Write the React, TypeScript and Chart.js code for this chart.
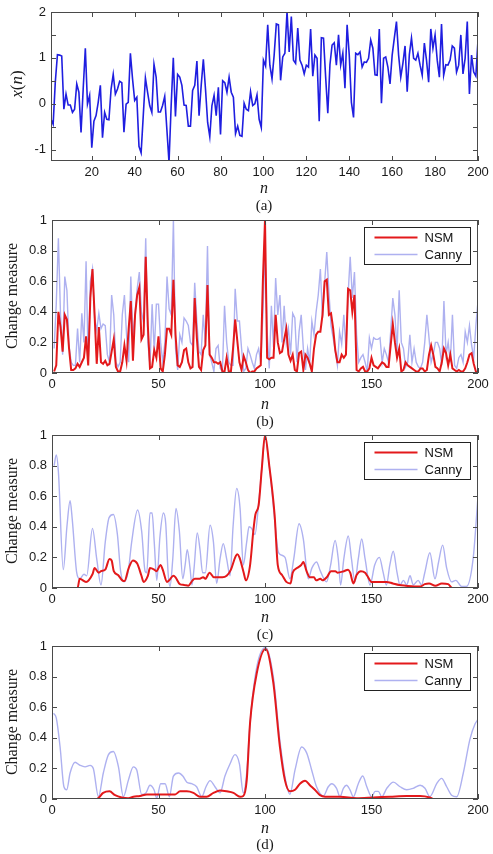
import React, { useEffect, useRef } from "react";
import { Chart, registerables } from "chart.js";

Chart.register(...registerables);

// (a) input signal x(n), n = 1..200
const signalX = [
  -0.34, -0.45, 0.47, 1.07, 1.06, 1.04, -0.12, 0.21, -0.03, -0.03,
  -0.19, -0.12, 0.43, 0.25, -0.63, 0.32, 1.21, -0.01, 0.18, -0.96,
  -0.38, -0.26, 0.03, 0.4, -0.74, -0.19, -0.34, -0.35, 0.32, 0.64,
  0.21, 0.32, 0.49, 0.46, -0.62, -0.01, 0.03, 1.1, 0.54, 0.07,
  0.14, -0.93, -1.07, -0.26, 0.56, 0.25, -0.04, -0.19, 0.86, 0.58,
  -0.18, -0.18, -0.04, 0.16, -0.56, -1.28, -0.04, 1.0, -0.28, 0.64,
  0.58, 0.4, -0.03, -0.04, -0.49, -0.49, 0.29, 0.4, 0.93, -0.26,
  0.4, 0.97, 0.32, -0.41, -0.72, -0.04, 0.18, -0.26, 0.36, -0.67,
  0.5, 0.46, 0.25, 0.58, 0.25, 0.14, -0.65, -0.49, -0.69, -0.71,
  0.01, -0.12, -0.15, 0.26, -0.04, 0.0, 0.19, -0.34, -0.52, 0.95,
  0.82, 1.72, 0.84, 0.54, 1.06, 1.74, 1.72, 0.51, 1.02, 1.1,
  2.01, 1.13, 1.9, 0.95, 0.88, 1.65, 0.95, 0.84, 0.65, 0.84,
  0.8, 1.63, 0.6, 1.06, 0.99, -0.38, 1.44, 1.43, 0.58, -0.21,
  0.85, 1.28, 1.33, 0.84, 1.5, 0.84, 1.1, 0.34, 1.72, 1.06,
  0.03, -0.3, 1.1, 1.07, 1.13, 0.8, 0.91, 0.9, 0.99, 1.39,
  1.21, 0.63, 0.62, 1.63, 0.01, 0.99, 1.02, 0.8, 0.43, 1.06,
  1.43, 1.79, 1.06, 0.58, 0.88, 1.26, 0.26, 1.07, 1.43, 0.99,
  0.95, 1.1, 0.84, 0.62, 1.32, 0.95, 0.47, 1.63, 1.21, 1.5,
  0.95, 0.58, 1.74, 0.62, 0.85, 0.84, 0.95, 1.26, 1.21, 0.69,
  0.84, 1.5, 0.65, 0.99, 1.79, 0.21, 1.06, 0.69, 0.6, 1.39,
];

// (b) change measures, n = 1..200
const nsmB = [
  0.01, 0.05, 0.4, 0.3, 0.14, 0.38, 0.35, 0.16, 0.02, 0.02,
  0.03, 0.06, 0.04, 0.07, 0.1, 0.24, 0.05, 0.49, 0.68, 0.38,
  0.06, 0.3, 0.07, 0.06, 0.08, 0.05, 0.06, 0.14, 0.22, 0.04,
  0.01, 0.01, 0.07, 0.18, 0.08, 0.29, 0.47, 0.08, 0.38, 0.51,
  0.56, 0.22, 0.25, 0.76, 0.31, 0.03, 0.04, 0.15, 0.1, 0.24,
  0.03, 0.01, 0.12, 0.29, 0.29, 0.25, 0.61, 0.25, 0.05, 0.04,
  0.07, 0.15, 0.16, 0.07, 0.03, 0.04, 0.49, 0.23, 0.04, 0.02,
  0.15, 0.18, 0.575, 0.12, 0.1, 0.07, 0.07, 0.06, 0.07, 0.01,
  0.01, 0.1, 0.01, 0.01, 0.16, 0.35, 0.21, 0.07, 0.02, 0.11,
  0.07, 0.02, 0.0, 0.01, 0.01, 0.03, 0.04, 0.05, 0.6, 1.0,
  0.1, 0.09, 0.1, 0.1, 0.38, 0.2, 0.13, 0.14, 0.22, 0.29,
  0.12, 0.08, 0.12, 0.02, 0.01, 0.13, 0.14, 0.02, 0.12, 0.1,
  0.06, 0.01, 0.16, 0.25, 0.27, 0.27, 0.38, 0.6, 0.61, 0.38,
  0.39, 0.29, 0.15, 0.07, 0.07, 0.12, 0.1, 0.12, 0.55, 0.54,
  0.4, 0.51, 0.02, 0.01, 0.03, 0.04, 0.01, 0.01, 0.03, 0.1,
  0.05, 0.04, 0.03, 0.05, 0.07, 0.06, 0.04, 0.04, 0.18, 0.32,
  0.2, 0.1, 0.16, 0.01, 0.02, 0.07, 0.05, 0.04, 0.03, 0.02,
  0.01, 0.01, 0.03, 0.03, 0.01, 0.02, 0.12, 0.18, 0.12, 0.04,
  0.03, 0.01, 0.07, 0.16, 0.13, 0.05, 0.12, 0.03, 0.02, 0.01,
  0.02, 0.01, 0.01, 0.03, 0.07, 0.12, 0.13, 0.06, 0.01, 0.0,
];

const cannyB = [
  0.16, 0.45, 0.88, 0.38, 0.12, 0.63, 0.54, 0.18, 0.07, 0.05,
  0.05, 0.29, 0.07, 0.39, 0.2, 0.73, 0.07, 0.6, 0.68, 0.36,
  0.28, 0.39, 0.29, 0.32, 0.31, 0.12, 0.07, 0.51, 0.38, 0.07,
  0.04, 0.07, 0.38, 0.51, 0.25, 0.07, 0.63, 0.23, 0.39, 0.55,
  0.66, 0.4, 0.33, 0.88, 0.2, 0.05, 0.45, 0.14, 0.45, 0.45,
  0.2, 0.07, 0.2, 0.63, 0.42, 0.38, 1.0, 0.16, 0.02, 0.25,
  0.2, 0.36, 0.34, 0.31, 0.2, 0.18, 0.59, 0.34, 0.14, 0.12,
  0.38, 0.2, 0.83, 0.12, 0.07, 0.01, 0.16, 0.18, 0.03, 0.01,
  0.44, 0.2, 0.07, 0.05, 0.05, 0.55, 0.34, 0.34, 0.16, 0.01,
  0.03, 0.16, 0.12, 0.07, 0.03, 0.12, 0.16, 0.07, 0.38, 0.8,
  0.27, 0.03, 0.44, 0.17, 0.62, 0.38, 0.51, 0.2, 0.44, 0.2,
  0.29, 0.12, 0.39, 0.36, 0.07, 0.27, 0.38, 0.16, 0.02, 0.16,
  0.07, 0.34, 0.25, 0.4, 0.51, 0.68, 0.36, 0.59, 0.79, 0.53,
  0.31, 0.23, 0.14, 0.05, 0.27, 0.19, 0.38, 0.16, 0.51, 0.76,
  0.49, 0.66, 0.25, 0.07, 0.1, 0.12, 0.07, 0.01, 0.23, 0.16,
  0.23, 0.22, 0.22, 0.23, 0.07, 0.16, 0.12, 0.07, 0.27, 0.49,
  0.38, 0.14, 0.54, 0.2, 0.16, 0.04, 0.07, 0.25, 0.07, 0.16,
  0.07, 0.04, 0.03, 0.07, 0.2, 0.38, 0.23, 0.07, 0.12, 0.2,
  0.2, 0.16, 0.05, 0.47, 0.12, 0.2, 0.07, 0.38, 0.05, 0.03,
  0.1, 0.12, 0.07, 0.27, 0.2, 0.31, 0.18, 0.1, 0.31, 0.47,
];

// (c) change measures as [n, value]
const nsmC: [number, number][] = [
  [0, 0], [12, 0], [13, 0.06], [16, 0.04], [19, 0.09], [20, 0.13], [22, 0.1], [23, 0.11],
  [25, 0.12], [27, 0.19], [28, 0.18], [29, 0.11], [31, 0.085], [33, 0.05], [34, 0.045],
  [36, 0.13], [38, 0.18], [40, 0.16], [42, 0.08], [43, 0.04], [45, 0.08], [46, 0.13],
  [48, 0.12], [49, 0.11], [51, 0.15], [52, 0.12], [54, 0.04], [55, 0.05], [57, 0.08],
  [58, 0.07], [60, 0.025], [62, 0.02], [64, 0.015], [66, 0.05], [67, 0.06], [69, 0.06],
  [71, 0.07], [72, 0.06], [74, 0.1], [76, 0.07], [78, 0.07], [80, 0.07], [82, 0.08],
  [84, 0.12], [86, 0.2], [87, 0.22], [88, 0.2], [90, 0.1], [91, 0.05], [93, 0.15],
  [94.5, 0.37], [95.5, 0.48], [97, 0.54], [98.5, 0.78], [100, 1.0], [102, 0.8],
  [104.5, 0.48], [106, 0.15], [108, 0.085], [110, 0.04], [112, 0.03], [113, 0.1],
  [115, 0.13], [117, 0.15], [118, 0.17], [119.5, 0.11], [121, 0.07], [123, 0.07],
  [124, 0.05], [126, 0.06], [127, 0.05], [129, 0.07], [131, 0.11], [133, 0.11],
  [134, 0.1], [137, 0.11], [139, 0.12], [140, 0.1], [141.5, 0.03], [143, 0.085],
  [145, 0.11], [147, 0.1], [148, 0.08], [150, 0.04], [152, 0.04], [155, 0.04],
  [157, 0.04], [160, 0.03], [163, 0.02], [166, 0.015], [170, 0.01], [173, 0.01],
  [175, 0.025], [177, 0.03], [180, 0.015], [183, 0.03], [186, 0.025], [188, 0], [200, 0],
];

const cannyC: [number, number][] = [
  [1, 0.8], [2, 0.87], [3, 0.76], [5.3, 0.12], [7, 0.4], [8.5, 0.57], [9.5, 0.45],
  [11.6, 0.1], [13, 0.06], [15, 0.09], [16.3, 0.08], [19, 0.39], [21, 0.19], [23, 0.02],
  [25, 0.3], [26.8, 0.46], [28.8, 0.48], [30.7, 0.35], [32.2, 0.11], [33.8, 0.04],
  [35.8, 0.11], [37.4, 0.3], [40.2, 0.51], [42.1, 0.37], [43.7, 0.11], [44.5, 0.1],
  [46, 0.49], [47, 0.49], [48, 0.3], [49.2, 0.05], [50.7, 0.34], [52.3, 0.49],
  [53.4, 0.42], [54.5, 0.1], [55.4, 0.01], [56.7, 0.19], [58.2, 0.52], [59.8, 0.37],
  [61.4, 0.06], [62.5, 0.15], [63.5, 0.25], [64.8, 0.13], [65.7, 0.02], [66.7, 0.13],
  [68.2, 0.36], [69.5, 0.25], [70.7, 0.1], [72, 0.1], [74.2, 0.41], [75.8, 0.3],
  [77.3, 0.03], [78.9, 0.19], [80.4, 0.29], [82, 0.19], [83.6, 0.08], [85, 0.4],
  [86.7, 0.65], [88.3, 0.52], [89.8, 0.15], [91.4, 0.3], [92.5, 0.4], [93.7, 0.39],
  [95.3, 0.35], [97, 0.55], [98.5, 0.78], [100, 0.98], [102, 0.8], [104.5, 0.45],
  [106, 0.25], [107, 0.22], [109.4, 0.2], [111.7, 0.06], [113.5, 0.19], [116, 0.42],
  [118, 0.32], [120.3, 0.06], [122, 0.13], [124.2, 0.17], [126, 0.11], [128.9, 0.04],
  [130.8, 0.15], [132.9, 0.31], [134.4, 0.19], [135.5, 0.02], [137, 0.19], [139.1, 0.34],
  [140.6, 0.19], [142.2, 0.04], [143.8, 0.19], [145.4, 0.32], [147, 0.19], [149.3, 0.02],
  [151.5, 0.15], [153.7, 0.2], [155.5, 0.1], [157, 0.02], [158.6, 0.15], [160.2, 0.24],
  [162, 0.1], [163.4, 0.02], [165, 0.05], [166.5, 0.02], [168.1, 0.08], [169.6, 0.02],
  [171.9, 0.05], [173.5, 0.02], [175, 0.1], [177.4, 0.23], [179.8, 0.06], [181.5, 0.17],
  [183.4, 0.28], [185.3, 0.13], [187.6, 0.04], [189.6, 0.05], [192.3, 0.01],
  [194.6, 0.01], [197.7, 0.19], [200, 0.6],
];

// (d) change measures as [n, value]
const nsmD: [number, number][] = [
  [0, 0], [21, 0], [24, 0.04], [27, 0.05], [29.6, 0.025], [32.7, 0.01], [35.8, 0.005],
  [38.2, 0.015], [41.3, 0.02], [44.5, 0.03], [49.2, 0.03], [53.8, 0.03], [57.8, 0.03],
  [60.1, 0.05], [63.3, 0.05], [66.4, 0.04], [69.5, 0.015], [72.6, 0.015], [75.8, 0.04],
  [78.9, 0.055], [82, 0.05], [85.2, 0.04], [88.3, 0.015], [89.8, 0.02], [91.4, 0.12],
  [93, 0.5], [96.1, 0.82], [100.3, 0.98], [103.9, 0.76], [107, 0.34], [109.4, 0.12],
  [111.7, 0.05], [114.1, 0.06], [116.4, 0.1], [118.8, 0.12], [121.1, 0.09], [123.4, 0.06],
  [125.8, 0.025], [128.2, 0.015], [135.2, 0.015], [143.1, 0.005], [150.9, 0.01],
  [158.7, 0.015], [166.5, 0.02], [172.8, 0.02], [177.4, 0.01], [179, 0], [200, 0],
];

const cannyD: [number, number][] = [
  [0.7, 0.56], [2, 0.53], [3.8, 0.34], [5.6, 0.08], [6.9, 0.06], [8.5, 0.17], [10.8, 0.24],
  [13.2, 0.22], [15.5, 0.21], [17.9, 0.22], [19.4, 0.2], [21.8, 0.015], [24.1, 0.17],
  [26.5, 0.29], [28.8, 0.31], [31.2, 0.21], [33.5, 0.015], [35.8, 0.12], [38.2, 0.21],
  [39.8, 0.19], [42.1, 0.03], [44.1, 0.04], [46, 0.09], [47.9, 0.06], [49.2, 0.005],
  [51, 0.1], [53.1, 0.1], [55.1, 0.015], [57, 0.15], [59.4, 0.17], [61.4, 0.15],
  [63.3, 0.11], [65.6, 0.1], [67.9, 0.08], [70.3, 0.015], [72.3, 0.08], [74.2, 0.12],
  [76.5, 0.08], [78.9, 0.04], [81.2, 0.15], [83.6, 0.23], [85.9, 0.29], [88, 0.23],
  [89.8, 0.04], [91.4, 0.17], [93, 0.5], [96.1, 0.86], [100.3, 0.99], [103.9, 0.8],
  [107, 0.38], [110, 0.1], [111.7, 0.03], [114.1, 0.19], [117.2, 0.34], [119.6, 0.3],
  [121.9, 0.19], [124.2, 0.08], [127.4, 0.02], [129.7, 0.08], [131.3, 0.1], [133.6, 0.07],
  [135.2, 0.015], [136.8, 0.07], [138.3, 0.09], [139.9, 0.06], [141.5, 0.015],
  [143.8, 0.1], [145.9, 0.15], [147.8, 0.08], [150.1, 0.015], [151.7, 0.05], [153.2, 0.05],
  [154.8, 0.015], [157.2, 0.07], [160.3, 0.11], [163.4, 0.08], [166.5, 0.06], [169.6, 0.07],
  [172.8, 0.09], [175.1, 0.07], [177.4, 0.015], [180.6, 0.1], [182.9, 0.135], [185.3, 0.08],
  [187.6, 0.025], [190, 0.015], [193.1, 0.17], [196.2, 0.39], [198.6, 0.49], [200, 0.52],
];

// Axis ticks
const ticksXa = [20, 40, 60, 80, 100, 120, 140, 160, 180, 200];
const ticksYa = [-1, -0.5, 0, 0.5, 1, 1.5, 2];
const ticksX = [0, 50, 100, 150, 200];
const ticksY = [0, 0.2, 0.4, 0.6, 0.8, 1];

const W = 493;
const TICK_FONT = "'Liberation Sans', Arial, Helvetica, sans-serif";
const SERIF = "'Liberation Serif', 'Times New Roman', serif";
const RED = "#e3191b";
const LAVENDER = "#aeb1f0";
const BLUE = "#1f1ee0";

type Area = { left: number; right: number; top: number; bottom: number };

type PanelDef = {
  top: number;
  height: number;
  area: Area;
  xMin: number;
  xMax: number;
  xTicks: number[];
  yMin: number;
  yMax: number;
  yTicks: number[];
  yLabel: (v: number) => string;
  datasets: any[];
  legend: boolean;
};

const series = (vals: number[]) => vals.map((v, i) => ({ x: i + 1, y: v }));
const pairs = (pts: [number, number][]) => pts.map(([x, y]) => ({ x, y }));

const nsmLine = (data: any[], smooth: boolean) => ({
  label: "NSM",
  data,
  borderColor: RED,
  borderWidth: 2,
  pointRadius: 0,
  tension: 0,
  cubicInterpolationMode: smooth ? "monotone" : "default",
  order: 1,
});
const cannyLine = (data: any[], smooth: boolean) => ({
  label: "Canny",
  data,
  borderColor: LAVENDER,
  borderWidth: 1.4,
  pointRadius: 0,
  tension: 0,
  cubicInterpolationMode: smooth ? "monotone" : "default",
  order: 2,
});

// Box frame with inward ticks on all four sides
const frame = {
  id: "frame",
  afterDatasetsDraw(chart: any) {
    const { ctx, chartArea: a, scales } = chart;
    const len = 5;
    ctx.save();
    ctx.strokeStyle = "#4a4a4a";
    ctx.lineWidth = 1;
    ctx.beginPath();
    for (const t of scales.x.ticks) {
      const px = Math.round(scales.x.getPixelForValue(t.value)) + 0.5;
      ctx.moveTo(px, a.bottom);
      ctx.lineTo(px, a.bottom - len);
      ctx.moveTo(px, a.top);
      ctx.lineTo(px, a.top + len);
    }
    for (const t of scales.y.ticks) {
      const py = Math.round(scales.y.getPixelForValue(t.value)) + 0.5;
      ctx.moveTo(a.left, py);
      ctx.lineTo(a.left + len, py);
      ctx.moveTo(a.right, py);
      ctx.lineTo(a.right - len, py);
    }
    ctx.stroke();
    ctx.strokeRect(Math.round(a.left) + 0.5, Math.round(a.top) + 0.5, Math.round(a.width) - 1, Math.round(a.height) - 1);
    ctx.restore();
  },
};

// Boxed legend in the upper-right corner of the plot
const boxLegend = {
  id: "boxLegend",
  afterDraw(chart: any) {
    const { ctx, chartArea: a } = chart;
    const w = 106;
    const h = 37;
    const x0 = Math.round(a.right - 8 - w) + 0.5;
    const y0 = Math.round(a.top + 7) + 0.5;
    ctx.save();
    ctx.fillStyle = "#ffffff";
    ctx.fillRect(x0, y0, w, h);
    ctx.strokeStyle = "#222";
    ctx.lineWidth = 1;
    ctx.strokeRect(x0, y0, w, h);
    ctx.font = `13px ${TICK_FONT}`;
    ctx.textBaseline = "middle";
    ctx.textAlign = "left";
    chart.data.datasets.forEach((ds: any, i: number) => {
      const yy = y0 + 10 + i * 17;
      ctx.strokeStyle = ds.borderColor;
      ctx.lineWidth = ds.borderWidth;
      ctx.beginPath();
      ctx.moveTo(x0 + 10, yy);
      ctx.lineTo(x0 + 53, yy);
      ctx.stroke();
      ctx.fillStyle = "#111";
      ctx.fillText(ds.label, x0 + 60, yy + 0.5);
    });
    ctx.restore();
  },
};

const decimal = (v: number) => String(Math.round(v * 10) / 10);

const panels: PanelDef[] = [
  {
    top: 0,
    height: 210,
    area: { left: 51, right: 478, top: 12, bottom: 161 },
    xMin: 1,
    xMax: 200,
    xTicks: ticksXa,
    yMin: -1.25,
    yMax: 2,
    yTicks: ticksYa,
    yLabel: (v) => (Number.isInteger(v) ? String(v) : ""),
    datasets: [
      {
        label: "x(n)",
        data: series(signalX),
        borderColor: BLUE,
        borderWidth: 1.6,
        pointRadius: 0,
        tension: 0,
      },
    ],
    legend: false,
  },
  {
    top: 210,
    height: 215,
    area: { left: 52, right: 478, top: 220, bottom: 373 },
    xMin: 0,
    xMax: 200,
    xTicks: ticksX,
    yMin: 0,
    yMax: 1,
    yTicks: ticksY,
    yLabel: decimal,
    datasets: [nsmLine(series(nsmB), false), cannyLine(series(cannyB), false)],
    legend: true,
  },
  {
    top: 425,
    height: 213,
    area: { left: 52, right: 478, top: 435, bottom: 588 },
    xMin: 0,
    xMax: 200,
    xTicks: ticksX,
    yMin: 0,
    yMax: 1,
    yTicks: ticksY,
    yLabel: decimal,
    datasets: [nsmLine(pairs(nsmC), true), cannyLine(pairs(cannyC), true)],
    legend: true,
  },
  {
    top: 638,
    height: 216,
    area: { left: 52, right: 478, top: 646, bottom: 799 },
    xMin: 0,
    xMax: 200,
    xTicks: ticksX,
    yMin: 0,
    yMax: 1,
    yTicks: ticksY,
    yLabel: decimal,
    datasets: [nsmLine(pairs(nsmD), true), cannyLine(pairs(cannyD), true)],
    legend: true,
  },
];

function buildConfig(p: PanelDef): any {
  const font = { family: TICK_FONT, size: 13 };
  return {
    type: "line",
    data: { datasets: p.datasets },
    plugins: p.legend ? [frame, boxLegend] : [frame],
    options: {
      responsive: false,
      animation: false,
      parsing: true,
      layout: {
        padding: { left: 0, right: W - p.area.right, top: p.area.top - p.top, bottom: 0 },
      },
      plugins: { legend: { display: false }, tooltip: { enabled: false } },
      scales: {
        x: {
          type: "linear",
          min: p.xMin,
          max: p.xMax,
          grid: { display: false, drawTicks: false },
          border: { display: false },
          afterBuildTicks: (s: any) => {
            s.ticks = p.xTicks.map((v) => ({ value: v }));
          },
          afterFit: (s: any) => {
            s.height = p.top + p.height - p.area.bottom;
            s.paddingLeft = 0;
            s.paddingRight = 0;
          },
          ticks: {
            font,
            color: "#1a1a1a",
            padding: 4,
            maxRotation: 0,
            autoSkip: false,
            callback: (v: number) => String(v),
          },
        },
        y: {
          type: "linear",
          min: p.yMin,
          max: p.yMax,
          grid: { display: false, drawTicks: false },
          border: { display: false },
          afterBuildTicks: (s: any) => {
            s.ticks = p.yTicks.map((v) => ({ value: v }));
          },
          afterFit: (s: any) => {
            s.width = p.area.left;
            s.paddingTop = 0;
            s.paddingBottom = 0;
          },
          ticks: {
            font,
            color: "#1a1a1a",
            padding: 5,
            autoSkip: false,
            callback: (v: number) => p.yLabel(v),
          },
        },
      },
    },
  };
}

function PanelChart({ p }: { p: PanelDef }) {
  const ref = useRef<HTMLCanvasElement | null>(null);
  useEffect(() => {
    const chart = new Chart(ref.current as HTMLCanvasElement, buildConfig(p));
    return () => chart.destroy();
  }, [p]);
  return (
    <canvas
      ref={ref}
      width={W}
      height={p.height}
      style={{ position: "absolute", left: 0, top: p.top, width: W, height: p.height }}
    />
  );
}

const textAt = (
  x: number,
  y: number,
  content: React.ReactNode,
  style: React.CSSProperties = {},
  rotate = false
) => (
  <div
    style={{
      position: "absolute",
      left: x,
      top: y,
      transform: `translate(-50%, -50%)${rotate ? " rotate(-90deg)" : ""}`,
      whiteSpace: "nowrap",
      fontFamily: SERIF,
      fontSize: 16,
      color: "#1a1a1a",
      lineHeight: 1,
      ...style,
    }}
  >
    {content}
  </div>
);

export default function App() {
  const italic: React.CSSProperties = { fontStyle: "italic" };
  return (
    <div
      style={{
        position: "fixed",
        left: 0,
        top: 0,
        width: W,
        height: 854,
        background: "#ffffff",
        overflow: "hidden",
      }}
    >
      {panels.map((p, i) => (
        <PanelChart key={i} p={p} />
      ))}

      {textAt(16, 84, <span><i>x</i>(<i>n</i>)</span>, { fontSize: 17 }, true)}
      {textAt(264, 188, "n", italic)}
      {textAt(264, 205, "(a)", { fontSize: 15 })}

      {textAt(12, 296, "Change measure", {}, true)}
      {textAt(265, 404, "n", italic)}
      {textAt(265, 421, "(b)", { fontSize: 15 })}

      {textAt(12, 511, "Change measure", {}, true)}
      {textAt(265, 617, "n", italic)}
      {textAt(265, 634, "(c)", { fontSize: 15 })}

      {textAt(12, 722, "Change measure", {}, true)}
      {textAt(265, 828, "n", italic)}
      {textAt(265, 844, "(d)", { fontSize: 15 })}
    </div>
  );
}
